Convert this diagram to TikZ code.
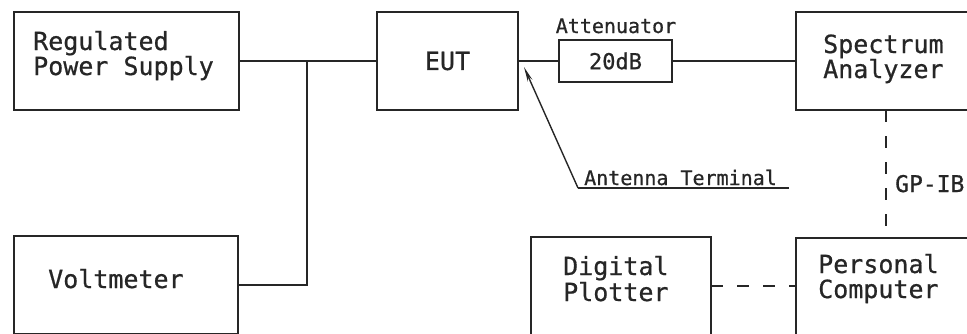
\documentclass[tikz,border=0pt]{standalone}
\usepackage{fontspec}
\setmainfont{DejaVu Sans Mono}[FakeBold=0.7]
\usetikzlibrary{arrows.meta}
\definecolor{ink}{HTML}{262626}
\begin{document}
\begin{tikzpicture}[x=1pt,y=-1pt,
  box/.style={draw=ink, line width=1.8pt, rectangle, inner sep=0pt, outer sep=0pt, anchor=north west},
  big/.style={text=ink, inner sep=0pt, font=\fontsize{25}{25}\selectfont},
  small/.style={text=ink, inner sep=0pt, font=\fontsize{20}{20}\selectfont},
  wire/.style={draw=ink, line width=1.8pt},
  dashwire/.style={draw=ink, line width=1.8pt, dash pattern=on 12pt off 14pt}]
\useasboundingbox (0,0) rectangle (967,333);
\clip (0,0) rectangle (967,333);
% boxes
\node[box, minimum width=225pt, minimum height=98pt] (rps) at (14,12) {};
\node[box, minimum width=224pt, minimum height=98pt] (volt) at (14,236) {};
\node[box, minimum width=141pt, minimum height=98pt, big] (eut) at (377,12) {EUT};
\node[box, minimum width=113pt, minimum height=42pt, font=\fontsize{22}{22}\selectfont, text=ink] (att) at (559,40) {20dB};
\node[box, minimum width=180pt, minimum height=98pt] (sa) at (796,12) {};
\node[box, minimum width=180pt, minimum height=98pt] (plot) at (531,237) {};
\node[box, minimum width=180pt, minimum height=98pt] (pc) at (796,238) {};
% texts
\node[big, anchor=base west] (rps1) at (33,50) {Regulated};
\node[big, anchor=base west] (rps2) at (33,75) {Power Supply};
\node[big, anchor=base west] (voltT) at (48,288) {Voltmeter};
\node[big, anchor=base west] (sa1) at (823,53) {Spectrum};
\node[big, anchor=base west] (sa2) at (823,78) {Analyzer};
\node[big, anchor=base west] (pc1) at (818,273) {Personal};
\node[big, anchor=base west] (pc2) at (818,298) {Computer};
\node[big, anchor=base west] (pl1) at (563,275) {Digital};
\node[big, anchor=base west] (pl2) at (563,301) {Plotter};
\node[big, anchor=base west, font=\fontsize{23}{23}\selectfont] (gpib) at (895,192) {GP-IB};
\node[small, anchor=base] (attT) at (616,33) {Attenuator};
\node[small, anchor=base west] (antT) at (584,185) {Antenna Terminal};
% wires
\coordinate (j) at (307,61);
\draw[wire] (rps.east) -- (eut.west);
\draw[wire] (volt.east) -| (j);
\draw[wire] (eut.east) -- (att.west);
\draw[wire] (att.east) -- (att.east -| sa.west);
\draw[dashwire] (sa.south) -- (pc.north);
\draw[dashwire] (plot.east) -- (plot.east -| pc.west);
% antenna terminal pointer
\coordinate (ulend) at (789,188);
\coordinate (bend) at (578,188);
\coordinate (tip) at (524,67);
\draw[draw=ink, line width=1.4pt] (ulend) -- (bend);
\draw[draw=ink, line width=1.4pt, -{Stealth[length=15pt,width=5pt]}] (bend) -- (tip);
\end{tikzpicture}
\end{document}
